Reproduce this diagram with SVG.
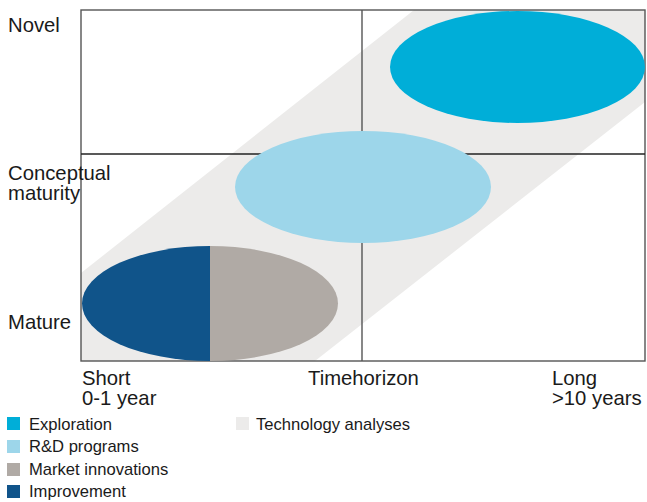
<svg xmlns="http://www.w3.org/2000/svg" width="647" height="502" viewBox="0 0 647 502">
<style>
text{font-family:"Liberation Sans",Arial,sans-serif;fill:#1a1a1a}
.ax{font-size:20.3px}
.lg{font-size:16.6px}
.ln{stroke:#555;stroke-width:1.4;fill:none}
</style>
<rect width="647" height="502" fill="#fff"/>
<g id="band"><polygon points="414,10 645,10 645,102 315,361 81,361 81,273" fill="#ECEBEA"/></g>
<g id="grid">
<rect x="81" y="10" width="564" height="351" class="ln"/>
<line x1="362" y1="10" x2="362" y2="361" class="ln"/>
<line x1="81" y1="154" x2="645" y2="154" stroke="#222" stroke-width="1.4"/>
</g>
<g id="exploration"><ellipse cx="517.5" cy="67" rx="127.5" ry="56" fill="#00AED8"/></g>
<g id="rd"><ellipse cx="363" cy="187" rx="128" ry="56" fill="#9DD6EA"/></g>
<g id="mature-node">
<path d="M210,246 A128,57.5 0 0 0 210,361 Z" fill="#10548A"/>
<path d="M210,246 A128,57.5 0 0 1 210,361 Z" fill="#B0AAA5"/>
</g>
<g id="labels">
<text class="ax" x="8" y="32">Novel</text>
<text class="ax" x="8" y="180">Conceptual</text>
<text class="ax" x="8" y="200">maturity</text>
<text class="ax" x="8" y="329">Mature</text>
<text class="ax" x="82" y="385">Short</text>
<text class="ax" x="82" y="405">0-1 year</text>
<text class="ax" x="308" y="385">Timehorizon</text>
<text class="ax" x="552" y="385">Long</text>
<text class="ax" x="552" y="405">&gt;10 years</text>
</g>
<g id="legend">
<rect x="7" y="417" width="13" height="13" fill="#00AED8"/>
<text class="lg" x="29" y="430">Exploration</text>
<rect x="7" y="440" width="13" height="13" fill="#9DD6EA"/>
<text class="lg" x="29" y="452">R&amp;D programs</text>
<rect x="7" y="463" width="13" height="13" fill="#B0AAA5"/>
<text class="lg" x="29" y="475">Market innovations</text>
<rect x="7" y="485" width="13" height="13" fill="#10548A"/>
<text class="lg" x="29" y="497">Improvement</text>
<rect x="236" y="417" width="13" height="13" fill="#ECEBEA"/>
<text class="lg" x="256" y="430">Technology analyses</text>
</g>
</svg>
